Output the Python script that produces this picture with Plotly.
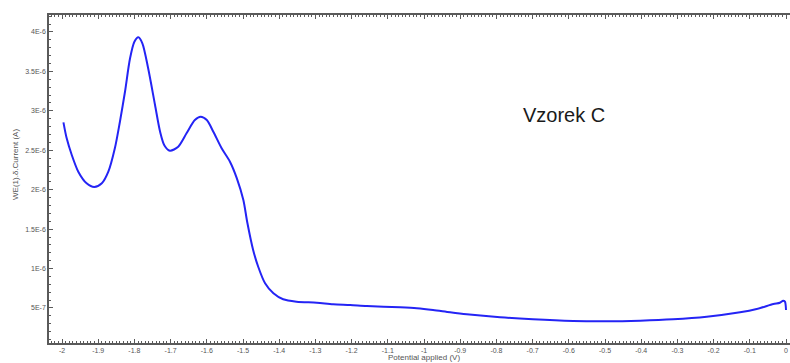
import plotly.graph_objects as go

# Potential sweep (V) and measured current (A)
potential = [
    -1.996, -1.987, -1.973, -1.955, -1.932, -1.911, -1.890, -1.872, -1.854,
    -1.840, -1.826, -1.812, -1.800, -1.789, -1.778, -1.762, -1.743, -1.729,
    -1.717, -1.702, -1.679, -1.656, -1.633, -1.617, -1.600, -1.582, -1.559,
    -1.536, -1.517, -1.499, -1.488, -1.472, -1.458, -1.439, -1.416, -1.389,
    -1.352, -1.296, -1.251, -1.204, -1.158, -1.066, -1.020, -0.975, -0.928,
    -0.882, -0.790, -0.699, -0.588, -0.495, -0.403, -0.312, -0.219, -0.127,
    -0.081, -0.035, -0.017, -0.008, -0.003, 0.000,
]
current = [
    2.854e-6, 2.651e-6, 2.440e-6, 2.228e-6, 2.081e-6, 2.034e-6, 2.081e-6,
    2.228e-6, 2.525e-6, 2.862e-6, 3.242e-6, 3.666e-6, 3.876e-6, 3.932e-6,
    3.856e-6, 3.539e-6, 3.074e-6, 2.735e-6, 2.560e-6, 2.494e-6, 2.545e-6,
    2.715e-6, 2.883e-6, 2.925e-6, 2.883e-6, 2.735e-6, 2.525e-6, 2.355e-6,
    2.144e-6, 1.869e-6, 1.580e-6, 1.235e-6, 1.023e-6, 0.813e-6, 0.686e-6,
    0.610e-6, 0.580e-6, 0.567e-6, 0.547e-6, 0.538e-6, 0.525e-6, 0.508e-6,
    0.496e-6, 0.474e-6, 0.445e-6, 0.420e-6, 0.382e-6, 0.356e-6, 0.335e-6,
    0.331e-6, 0.339e-6, 0.356e-6, 0.389e-6, 0.445e-6, 0.487e-6, 0.550e-6,
    0.567e-6, 0.592e-6, 0.580e-6, 0.474e-6,
]

x_ticks = [-2.0, -1.9, -1.8, -1.7, -1.6, -1.5, -1.4, -1.3, -1.2, -1.1, -1.0,
           -0.9, -0.8, -0.7, -0.6, -0.5, -0.4, -0.3, -0.2, -0.1, 0.0]
x_tick_text = ["-2", "-1.9", "-1.8", "-1.7", "-1.6", "-1.5", "-1.4", "-1.3",
               "-1.2", "-1.1", "-1", "-0.9", "-0.8", "-0.7", "-0.6", "-0.5",
               "-0.4", "-0.3", "-0.2", "-0.1", "0"]
y_ticks = [5e-7, 1e-6, 1.5e-6, 2e-6, 2.5e-6, 3e-6, 3.5e-6, 4e-6]
y_tick_text = ["5E-7", "1E-6", "1.5E-6", "2E-6", "2.5E-6", "3E-6", "3.5E-6", "4E-6"]

sample_label = "Vzorek C"
x_title = "Potential applied (V)"
y_title = "WE(1).\u03b4.Current (A)"

axis_color = "#5a5a5a"
tick_font = dict(family="Liberation Sans, Arial, sans-serif", size=7, color="#555555")
title_font = dict(family="Liberation Sans, Arial, sans-serif", size=8, color="#555555")

fig = go.Figure()
fig.add_trace(go.Scatter(
    x=potential, y=current, mode="lines",
    line=dict(color="#2424f5", width=2, shape="spline", smoothing=0.8),
    showlegend=False, hoverinfo="skip",
))

fig.update_layout(
    width=790, height=363,
    margin=dict(l=49, r=0, t=15, b=20),
    paper_bgcolor="white", plot_bgcolor="white",
    xaxis=dict(
        range=[-2.0359, 0.011],
        tickmode="array", tickvals=x_ticks, ticktext=x_tick_text,
        ticks="inside", ticklen=4, tickwidth=1, tickcolor=axis_color,
        minor=dict(dtick=0.01, tick0=0, ticks="inside", ticklen=2,
                   tickwidth=1, tickcolor=axis_color, showgrid=False),
        showline=True, linecolor=axis_color, linewidth=1.5, mirror="ticks",
        showgrid=False, zeroline=False, tickfont=tick_font,
    ),
    yaxis=dict(
        range=[5.6e-8, 4.215e-6],
        tickmode="array", tickvals=y_ticks, ticktext=y_tick_text,
        ticks="inside", ticklen=4, tickwidth=1, tickcolor=axis_color,
        minor=dict(dtick=1e-7, tick0=0, ticks="inside", ticklen=2,
                   tickwidth=1, tickcolor=axis_color, showgrid=False),
        showline=True, linecolor=axis_color, linewidth=1.5, mirror=False,
        showgrid=False, zeroline=False, tickfont=tick_font,
    ),
    annotations=[
        dict(text=sample_label, xref="paper", yref="paper", x=(564 - 49) / 741,
             y=(343 - 115) / 328, xanchor="center", yanchor="middle",
             showarrow=False,
             font=dict(family="Liberation Sans, Arial, sans-serif", size=20,
                       color="#1a1a1a")),
        dict(text=x_title, xref="paper", yref="paper", x=(424 - 49) / 741,
             y=(343 - 357) / 328, xanchor="center", yanchor="middle",
             showarrow=False, font=title_font),
        dict(text=y_title, xref="paper", yref="paper", x=(15 - 49) / 741,
             y=(343 - 165) / 328, xanchor="center", yanchor="middle",
             textangle=-90, showarrow=False, font=title_font),
    ],
)

fig.write_html("out.html")
